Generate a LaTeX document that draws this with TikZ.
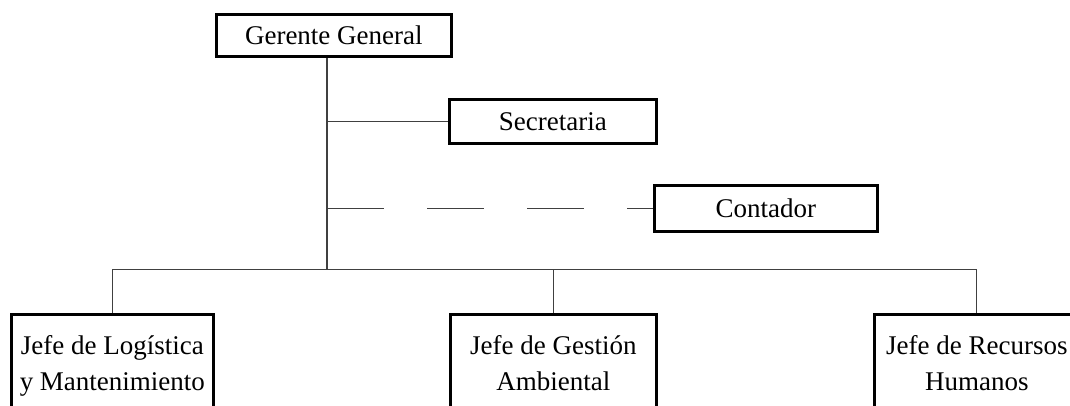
\documentclass[tikz,border=0pt]{standalone}
\usepackage{fontspec}
\setmainfont{Liberation Serif}
\usetikzlibrary{calc}

\begin{document}
\begin{tikzpicture}[font=\fontsize{19.2}{25.6}\selectfont,
  cargo/.style={draw,line width=1.9pt,anchor=north west,inner sep=0pt},
  jefe/.style={cargo,align=center,inner xsep=0pt,inner ysep=0.53cm},
  link/.style={line width=0.8pt,black!75}]

\useasboundingbox (0,0) rectangle (26.75,10.125);
\clip (0,0) rectangle (26.75,10.125);

% direccion
\node[cargo,minimum width=5.875cm,minimum height=1.05cm] (gg) at (5.375,9.8) {Gerente General};
\node[cargo,minimum width=5.175cm,minimum height=1.1cm] (sec) at (11.2,7.675) {Secretaria};
\node[cargo,minimum width=5.575cm,minimum height=1.15cm] (con) at (16.325,5.525) {Contador};

% jefaturas
\node[jefe,minimum width=5.05cm] (log) at (0.25,2.3) {Jefe de Log\'istica\\y Mantenimiento};
\node[jefe,minimum width=5.15cm] (amb) at (11.225,2.3) {Jefe de Gesti\'on\\Ambiental};
\node[jefe,minimum width=5.125cm] (rh) at (21.825,2.3) {Jefe de Recursos\\Humanos};

\coordinate (bus) at (8.175,3.3875);

\draw[link] (gg.south -| bus) -- (bus);
\draw[link] (bus |- sec.west) -- (sec.west);
\draw[link,dash pattern=on 1.425cm off 1.075cm] (bus |- con.west) -- (con.west);

\draw[link] (log.north) -- (log.north |- bus) -| (rh.north);
\draw[link] (amb.north) -- (amb.north |- bus);

\end{tikzpicture}
\end{document}
